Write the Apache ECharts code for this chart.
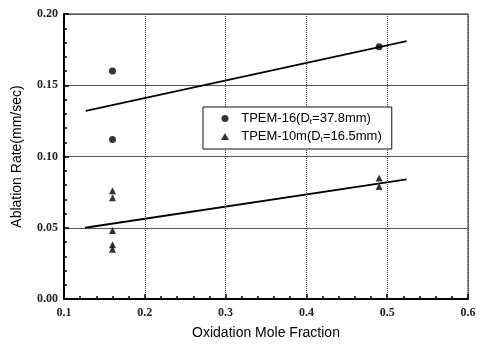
<!DOCTYPE html>
<html>
<head>
<meta charset="utf-8">
<script src="https://cdn.jsdelivr.net/npm/echarts@6/dist/echarts.min.js"></script>
<style>
  html, body { margin: 0; padding: 0; background: #fff; }
  #chart { width: 483px; height: 345px; }
</style>
</head>
<body>
<div id="chart"></div>
<script>
// measured points
const tpem16 = [[0.16, 0.160], [0.16, 0.112], [0.49, 0.177]];
const tpem10 = [
  [0.16, 0.076], [0.16, 0.071], [0.16, 0.048], [0.16, 0.038], [0.16, 0.035],
  [0.49, 0.085], [0.49, 0.079]
];
// fitted lines (end points)
const fit16 = [[0.127, 0.132], [0.524, 0.181]];
const fit10 = [[0.126, 0.050], [0.524, 0.084]];

const chart = echarts.init(document.getElementById('chart'));

const serif = 'Liberation Serif';
const sans = 'Liberation Sans';

chart.setOption({
  animation: false,
  grid: {
    left: 64, right: 15, top: 14, bottom: 43,
    show: true, borderColor: '#222', borderWidth: 1
  },
  legend: {
    data: ['TPEM-16', 'TPEM-10m'],
    orient: 'vertical',
    left: 203, top: 107,
    backgroundColor: '#fff',
    borderColor: '#111', borderWidth: 1,
    padding: [5, 10, 5, 18],
    itemGap: 4,
    itemWidth: 8, itemHeight: 7,
    textStyle: {
      fontFamily: sans, fontSize: 13, color: '#000',
      rich: {
        a: { fontFamily: sans, fontSize: 13, color: '#000' },
        s: { fontFamily: sans, fontSize: 8, color: '#000', verticalAlign: 'bottom', padding: [7, 0, 0, 0] }
      }
    },
    formatter: function (name) {
      if (name === 'TPEM-16') return '  {a|TPEM-16(D}{s|t}{a|=37.8mm)}';
      return '  {a|TPEM-10m(D}{s|t}{a|=16.5mm)}';
    }
  },
  xAxis: {
    type: 'value', min: 0.1, max: 0.6, interval: 0.1,
    name: 'Oxidation Mole Fraction', nameLocation: 'middle', nameGap: 27,
    nameTextStyle: { fontFamily: sans, fontSize: 14, color: '#000' },
    axisLine: { show: true, lineStyle: { color: '#000', width: 2 } },
    axisTick: { show: true, inside: true, length: 5, lineStyle: { color: '#000', width: 1.5 } },
    minorTick: { show: true, splitNumber: 5, length: 3, lineStyle: { color: '#000', width: 1.5 } },
    axisLabel: { fontFamily: serif, fontSize: 12, fontWeight: 'bold', color: '#222', margin: 8,
      formatter: v => v.toFixed(1) },
    splitLine: { show: true, lineStyle: { color: '#444', type: 'dotted', width: 1 } }
  },
  yAxis: {
    type: 'value', min: 0, max: 0.2, interval: 0.05,
    name: 'Ablation Rate(mm/sec)', nameLocation: 'middle', nameGap: 40,
    nameTextStyle: { fontFamily: sans, fontSize: 14, color: '#000' },
    axisLine: { show: true, lineStyle: { color: '#000', width: 2 } },
    axisTick: { show: true, inside: true, length: 5, lineStyle: { color: '#000', width: 1.5 } },
    minorTick: { show: true, splitNumber: 5, length: 3, lineStyle: { color: '#000', width: 1.5 } },
    axisLabel: { fontFamily: serif, fontSize: 12, fontWeight: 'bold', color: '#222', margin: 6,
      formatter: v => v.toFixed(2) },
    splitLine: { show: true, lineStyle: { color: '#555', width: 1 } }
  },
  series: [
    {
      name: 'fit16', type: 'line', data: fit16, symbol: 'none',
      lineStyle: { color: '#000', width: 1.8 }, z: 3
    },
    {
      name: 'fit10', type: 'line', data: fit10, symbol: 'none',
      lineStyle: { color: '#000', width: 1.8 }, z: 3
    },
    {
      name: 'TPEM-16', type: 'scatter', data: tpem16, symbol: 'circle', symbolSize: 7,
      itemStyle: { color: '#000' }, z: 4
    },
    {
      name: 'TPEM-10m', type: 'scatter', data: tpem10, symbol: 'triangle', symbolSize: 7,
      itemStyle: { color: '#000' }, z: 4
    }
  ]
});
</script>
</body>
</html>
